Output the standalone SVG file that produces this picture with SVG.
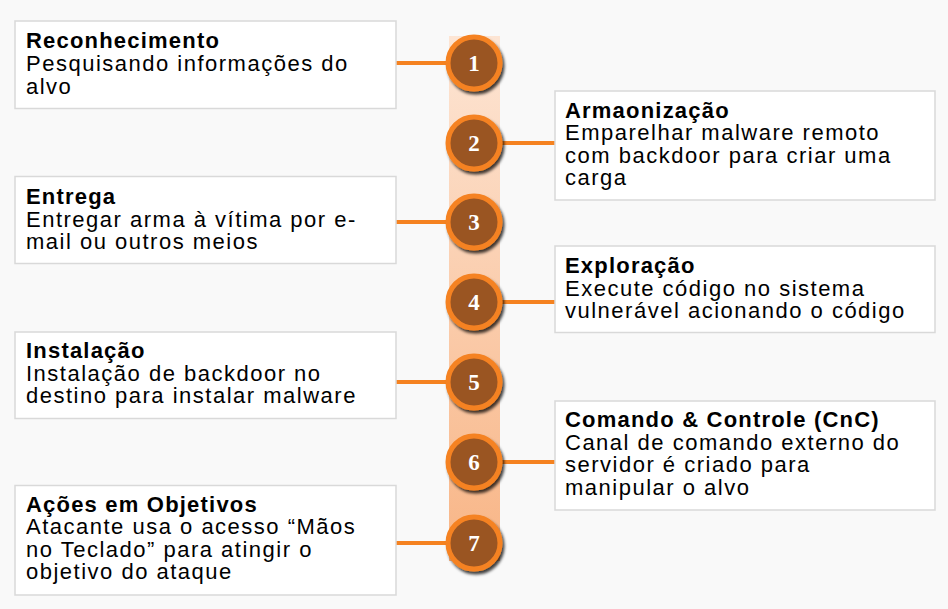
<svg xmlns="http://www.w3.org/2000/svg" width="948" height="609" viewBox="0 0 948 609">
<style>
.box{fill:#ffffff;stroke:#d9d9d9;stroke-width:1.5}
.t{font-family:"Liberation Sans",Arial,sans-serif;font-weight:bold;font-size:22px;letter-spacing:1.2px;fill:#000}
.b{font-family:"Liberation Sans",Arial,sans-serif;font-size:22px;letter-spacing:1.5px;fill:#000}
.c{fill:#9a5524;stroke:#f58220;stroke-width:5;filter:url(#sh)}
.n{font-family:"Liberation Serif","Times New Roman",serif;font-weight:bold;font-size:23px;fill:#fff;text-anchor:middle}
.ln{stroke:#f58220;stroke-width:4;fill:none}
</style>
<defs>
<linearGradient id="band" x1="0" y1="0" x2="0" y2="1">
<stop offset="0" stop-color="#fde5d4"/>
<stop offset="1" stop-color="#f8b586"/>
</linearGradient>
<filter id="sh" x="-30%" y="-30%" width="170%" height="170%">
<feDropShadow dx="2" dy="3" stdDeviation="1.5" flood-color="#000" flood-opacity="0.75"/>
</filter>
</defs>
<rect width="948" height="609" fill="#f9f9f9"/>
<rect id="band-bar" x="449" y="36" width="51" height="525" fill="url(#band)"/>
<g id="connectors">
<line class="ln" x1="396" y1="63" x2="450" y2="63"/>
<line class="ln" x1="498" y1="143" x2="555" y2="143"/>
<line class="ln" x1="396" y1="222" x2="450" y2="222"/>
<line class="ln" x1="498" y1="302" x2="555" y2="302"/>
<line class="ln" x1="396" y1="382" x2="450" y2="382"/>
<line class="ln" x1="498" y1="462" x2="555" y2="462"/>
<line class="ln" x1="396" y1="543" x2="450" y2="543"/>
</g>
<g id="step1">
<circle class="c" cx="474" cy="63" r="26"/><text class="n" x="474" y="71">1</text>
<rect class="box" x="15" y="21" width="381" height="87.5"/>
<text class="t" x="26" y="48.3">Reconhecimento</text>
<text class="b" x="26" y="71">Pesquisando informações do</text>
<text class="b" x="26" y="93.5">alvo</text>
</g>
<g id="step2">
<circle class="c" cx="474" cy="143" r="26"/><text class="n" x="474" y="151">2</text>
<rect class="box" x="555" y="91" width="380" height="109"/>
<text class="t" x="565" y="117.7">Armaonização</text>
<text class="b" x="565" y="140.2">Emparelhar malware remoto</text>
<text class="b" x="565" y="162.7">com backdoor para criar uma</text>
<text class="b" x="565" y="185.2">carga</text>
</g>
<g id="step3">
<circle class="c" cx="474" cy="222" r="26"/><text class="n" x="474" y="230">3</text>
<rect class="box" x="15" y="176.5" width="381" height="87"/>
<text class="t" x="26" y="204">Entrega</text>
<text class="b" x="26" y="226.5">Entregar arma à vítima por e-</text>
<text class="b" x="26" y="249">mail ou outros meios</text>
</g>
<g id="step4">
<circle class="c" cx="474" cy="302" r="26"/><text class="n" x="474" y="310">4</text>
<rect class="box" x="555" y="246" width="380" height="86.5"/>
<text class="t" x="565" y="273.3">Exploração</text>
<text class="b" x="565" y="295.8">Execute código no sistema</text>
<text class="b" x="565" y="318.3">vulnerável acionando o código</text>
</g>
<g id="step5">
<circle class="c" cx="474" cy="382" r="26"/><text class="n" x="474" y="390">5</text>
<rect class="box" x="15" y="332" width="381" height="86.5"/>
<text class="t" x="26" y="358.3">Instalação</text>
<text class="b" x="26" y="380.8">Instalação de backdoor no</text>
<text class="b" x="26" y="403.3">destino para instalar malware</text>
</g>
<g id="step6">
<circle class="c" cx="474" cy="462" r="26"/><text class="n" x="474" y="470">6</text>
<rect class="box" x="555" y="401" width="380" height="109"/>
<text class="t" x="565" y="427.3">Comando &amp; Controle (CnC)</text>
<text class="b" x="565" y="449.8">Canal de comando externo do</text>
<text class="b" x="565" y="472.3">servidor é criado para</text>
<text class="b" x="565" y="494.8">manipular o alvo</text>
</g>
<g id="step7">
<circle class="c" cx="474" cy="543" r="26"/><text class="n" x="474" y="551">7</text>
<rect class="box" x="15" y="485.5" width="381" height="109.5"/>
<text class="t" x="26" y="511.7">Ações em Objetivos</text>
<text class="b" x="26" y="534.2">Atacante usa o acesso “Mãos</text>
<text class="b" x="26" y="556.7">no Teclado” para atingir o</text>
<text class="b" x="26" y="579.2">objetivo do ataque</text>
</g>
</svg>
